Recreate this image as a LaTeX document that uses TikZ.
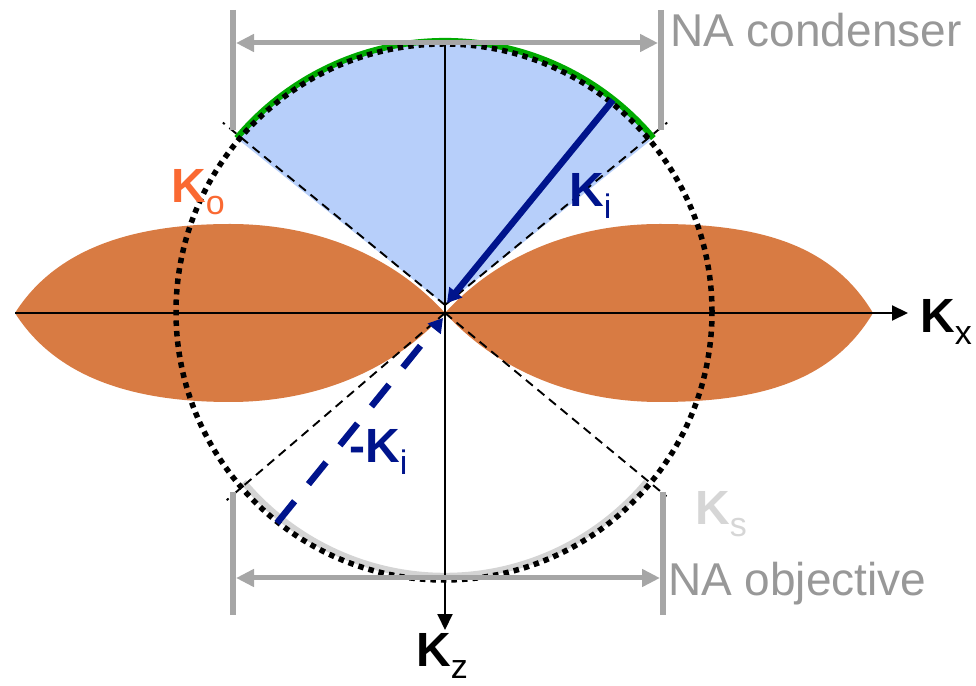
\documentclass[tikz,border=0pt]{standalone}
\usepackage{fontspec}
\setmainfont{Liberation Sans}
\usetikzlibrary{arrows.meta}
\definecolor{lobeC}{RGB}{216,123,67}
\definecolor{sectorC}{RGB}{183,207,250}
\definecolor{navyC}{RGB}{0,20,140}
\definecolor{koC}{RGB}{250,105,50}
\definecolor{greenC}{RGB}{0,170,0}
\definecolor{barC}{RGB}{166,166,166}
\definecolor{natxtC}{RGB}{152,152,152}
\definecolor{ksC}{RGB}{214,214,214}
\definecolor{ksarcC}{RGB}{212,212,212}
\newcommand\lowsub[1]{\raisebox{-12pt}{\fontsize{34}{34}\selectfont\mdseries #1}}
\tikzset{
  klabel/.style={anchor=base west, inner sep=0pt, font=\fontsize{48}{48}\selectfont\bfseries},
  natext/.style={anchor=base west, inner sep=0pt, text=natxtC, font=\fontsize{46}{46}\selectfont},
  guide/.style={black, line width=1.9pt, dash pattern=on 9pt off 6pt},
  axis/.style={black, line width=2pt, -{Triangle[length=16pt,width=15pt]}},
  bar/.style={barC, line width=5.5pt},
  naarrow/.style={barC, line width=5pt, {Triangle[length=18pt,width=17pt]}-{Triangle[length=18pt,width=17pt]}},
  kvec/.style={navyC, line width=6.5pt, -{Triangle[length=14pt,width=16pt]}}
}
\begin{document}
\begin{tikzpicture}[x=1pt,y=1pt]
\useasboundingbox (0,0) rectangle (976,685);
\coordinate (O) at (445,372);
\coordinate (apex) at (445,380);
% illuminated sector
\fill[sectorC] (apex) -- (651.8,545.6) arc[start angle=40,end angle=140,radius=270] -- cycle;
% lobes
\fill[lobeC] (O) .. controls (395,427) and (320,461) .. (230,461)
  .. controls (130,461) and (55,435) .. (15,372)
  .. controls (55,309) and (130,283) .. (230,283)
  .. controls (320,283) and (395,317) .. (O) -- cycle;
\fill[lobeC] (O) .. controls (495,427) and (570,461) .. (660,461)
  .. controls (770,461) and (835,435) .. (873,372)
  .. controls (835,309) and (770,283) .. (660,283)
  .. controls (570,283) and (495,317) .. (O) -- cycle;
% condenser arc (green) and objective arc (light gray)
\draw[greenC, line width=6pt] (653.4,546.9) arc[start angle=40,end angle=140,radius=272];
\draw[ksarcC, line width=6.5pt] (243.5,202.9) arc[start angle=220,end angle=320,radius=263];
% guide lines
\coordinate (g1) at ([shift={(445,376)}]40:290);
\coordinate (g2) at ([shift={(445,376)}]140:290);
\coordinate (g3) at ([shift={(445,368)}]220:285);
\coordinate (g4) at ([shift={(445,368)}]321:285);
\draw[guide] (apex) -- (g1);
\draw[guide] (apex) -- (g2);
\draw[guide] (O) -- (g3);
\draw[guide] (O) -- (g4);
% Ewald circle
\draw[black, line width=5.5pt, dash pattern=on 5.5pt off 5pt] (444,373) circle[radius=268];
% axes
\coordinate (xl) at (15,372);
\coordinate (xr) at (908,372);
\coordinate (zt) at (445,643);
\coordinate (zb) at (445,55);
\draw[axis] (xl) -- (xr);
\draw[axis] (zt) -- (zb);
% wave vectors
\coordinate (kiS) at (613,585);
\coordinate (kiE) at (447,382);
\coordinate (mkS) at (277,162);
\coordinate (mkE) at (443,367);
\draw[kvec] (kiS) -- (kiE);
\draw[kvec, dash pattern=on 28pt off 22pt] (mkS) -- (mkE);
% NA bars
\coordinate (tl1) at (233,675); \coordinate (tl2) at (233,555);
\coordinate (tr1) at (661,675); \coordinate (tr2) at (661,555);
\coordinate (bl1) at (233,193); \coordinate (bl2) at (233,70);
\coordinate (br1) at (663,193); \coordinate (br2) at (663,70);
\draw[bar] (tl1) -- (tl2);
\draw[bar] (tr1) -- (tr2);
\draw[bar] (bl1) -- (bl2);
\draw[bar] (br1) -- (br2);
\coordinate (ta1) at (236,642); \coordinate (ta2) at (658,642);
\coordinate (ba1) at (236,107); \coordinate (ba2) at (660,107);
\draw[naarrow] (ta1) -- (ta2);
\draw[naarrow] (ba1) -- (ba2);
% labels
\node[natext] (nacond) at (670,638) {NA condenser};
\node[natext] (naobj) at (668,90) {NA objective};
\node[klabel, text=koC] (ko) at (171,482) {K\lowsub{o}};
\node[klabel, text=navyC] (ki) at (569,478) {K\lowsub{i}};
\node[klabel, text=navyC] (mki) at (349,222) {-K\lowsub{i}};
\node[klabel, text=ksC] (ks) at (695,160) {K\lowsub{s}};
\node[klabel, text=black] (kx) at (920,352) {K\lowsub{x}};
\node[klabel, text=black] (kz) at (416,19) {K\lowsub{z}};
\end{tikzpicture}
\end{document}
